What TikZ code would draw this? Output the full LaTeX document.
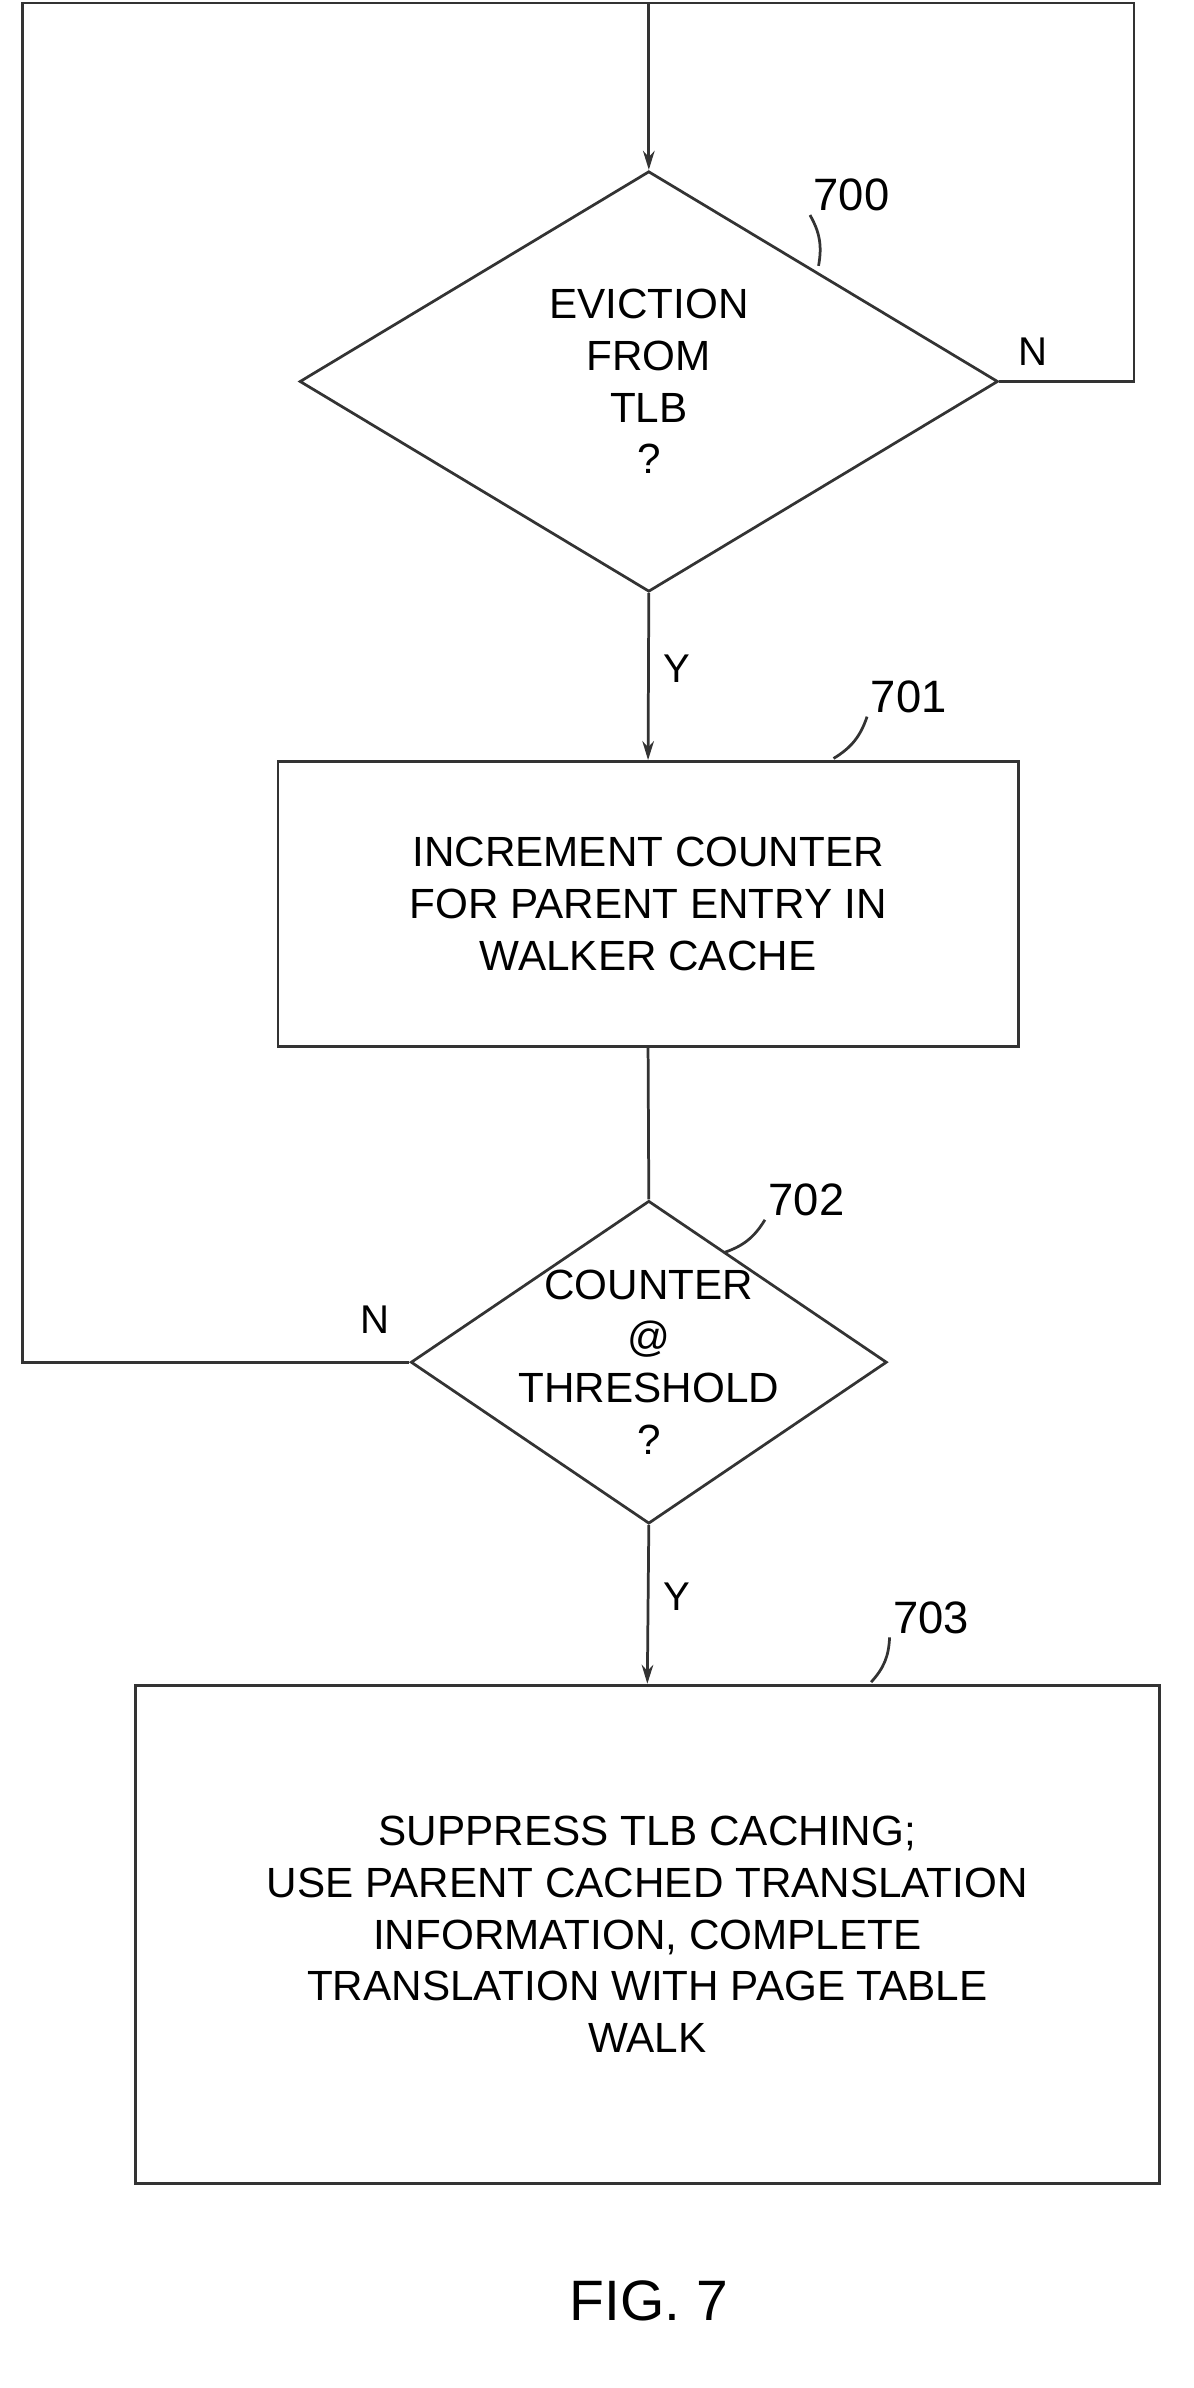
\documentclass[tikz,border=0pt]{standalone}
\usepackage{fontspec}
\setmainfont{Liberation Sans}
\usetikzlibrary{shapes.geometric,arrows.meta,positioning}
\tikzset{
  flow/.style={line width=2.6pt,draw=black!80},
  decision/.style={diamond,flow,inner sep=0pt,align=center,font=\fontsize{40}{49}\selectfont},
  process/.style={rectangle,flow,inner sep=0pt,align=center,font=\fontsize{40}{49}\selectfont},
  ref/.style={font=\fontsize{43}{50}\selectfont},
  yn/.style={font=\fontsize{38}{46}\selectfont},
  arr/.style={flow,-{Stealth[length=18pt,width=11pt]}}
}
\begin{document}
\begin{tikzpicture}[x=0.05cm,y=-0.05cm]
  \useasboundingbox (0,-2) rectangle (795,1588);
  % decisions and steps
  \node[decision,minimum width=23.25cm,minimum height=14cm] (d700) at (432,252) {EVICTION\\FROM\\TLB\\?};
  \node[process,minimum width=24.65cm,minimum height=9.5cm] (b701) at (431.5,600) {INCREMENT COUNTER\\FOR PARENT ENTRY IN\\WALKER CACHE};
  \node[decision,minimum width=15.85cm,minimum height=10.75cm] (d702) at (432,905) {};
  \node[align=center,font=\fontsize{40}{49}\selectfont] (t702) at (d702.center) {COUNTER\\@\\THRESHOLD\\?};
  \node[process,minimum width=34.1cm,minimum height=16.6cm] (b703) at (431,1286) {SUPPRESS TLB CACHING;\\USE PARENT CACHED TRANSLATION\\INFORMATION, COMPLETE\\TRANSLATION WITH PAGE TABLE\\WALK};
  % loop corners
  \coordinate (tl) at (15,0);
  \coordinate (tm) at (432,0);
  \coordinate (tr) at (755,0);
  \coordinate (bl) at (15,905);
  % connectors
  \draw[arr] (tm) -- (d700.north);
  \draw[flow] (d700.east) -| (tr) -- (tl) -- (bl) -- (d702.west);
  \draw[arr] (d700.south) -- node[yn,right=10pt,pos=0.45] {Y} (b701.north);
  \draw[flow] (b701.south) -- (d702.north);
  \draw[arr] (d702.south) -- node[yn,right=10pt,pos=0.45] {Y} (b703.north);
  \node[yn] (n700) at (688,232) {N};
  \node[yn] (n702) at (250,877) {N};
  % reference numerals
  \node[ref] (r700) at (567,128) {700};
  \node[ref] (r701) at (605,462) {701};
  \node[ref] (r702) at (537,797) {702};
  \node[ref] (r703) at (620,1075) {703};
  \draw[flow] (r700.south west) to[bend left=20] (545,175);
  \draw[flow] (r701.south west) to[bend left=20] (555,503);
  \draw[flow] (r702.south west) to[bend left=20] (482,832);
  \draw[flow] (r703.south west) to[bend left=20] (580,1118);
  \node[font=\fontsize{54}{60}\selectfont] (fig) at (432,1530) {FIG. 7};
\end{tikzpicture}
\end{document}
